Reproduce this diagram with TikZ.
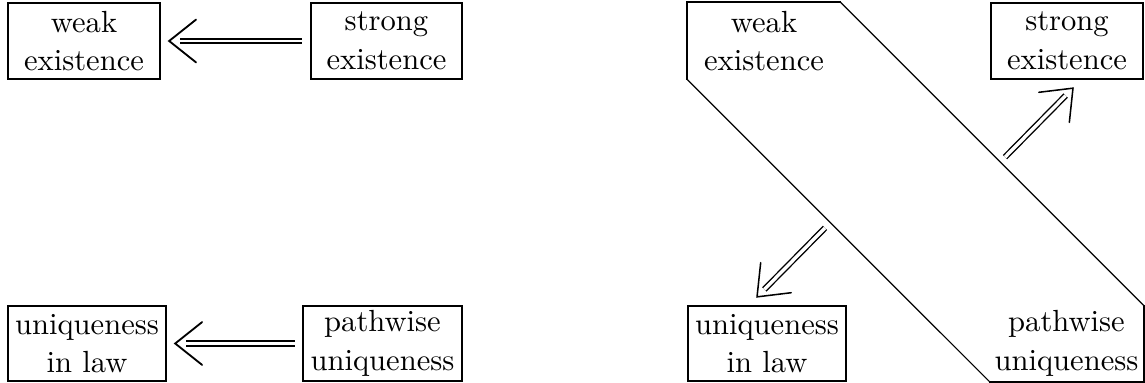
\documentclass[tikz,border=0pt]{standalone}
\usetikzlibrary{calc,decorations.markings}
\begin{document}
\begin{tikzpicture}[x=0.327pt,y=-0.327pt,
  txt/.style={align=center, inner sep=0pt, font=\fontsize{10pt}{12.6pt}\selectfont},
  box/.style={txt, draw, line width=0.75pt},
  frame/.style={line width=0.7pt, line join=miter},
  diag/.style={line width=0.4pt},
  dblh/.style={double, line width=0.7pt, double distance=0.8pt},
  dbld/.style={double, line width=0.45pt, double distance=1.1pt},
  chev/.style={postaction={decorate, decoration={markings,
      mark=at position 1 with {\draw[line width=#1, line cap=round, line join=miter]
        (-8.8pt,7pt) -- (0pt,0pt) -- (-8.8pt,-7pt);}}}},
  chev/.default=0.5pt]
\useasboundingbox (0,0) rectangle (1145,383);

% ---- left panel ----
\node[box, minimum width=49.7pt, minimum height=24.85pt] (wL) at (84,41) {weak\\existence};
\node[box, minimum width=49.4pt, minimum height=24.85pt] (sL) at (386.5,41) {strong\\existence};
\node[box, minimum width=51.7pt, minimum height=24.5pt] (uL) at (87,343.5) {uniqueness\\in law};
\node[box, minimum width=52.0pt, minimum height=24.5pt] (pL) at (382.5,343.5) {pathwise\\uniqueness};

\coordinate (t1) at ($(wL.east)+(8,0)$);
\coordinate (s1) at ($(sL.west)+(-8,0)$);
\draw[dblh] (s1) -- ($(t1)!3.4pt!(s1)$);
\path[chev=0.6pt] (s1) -- (t1);

\coordinate (t2) at ($(uL.east)+(8,0)$);
\coordinate (s2) at ($(pL.west)+(-7,0)$);
\draw[dblh] (s2) -- ($(t2)!3.4pt!(s2)$);
\path[chev=0.6pt] (s2) -- (t2);

% ---- right panel ----
\node[txt, minimum width=49.7pt, minimum height=24.85pt] (wR) at (764,41) {weak\\existence};
\node[box, minimum width=49.7pt, minimum height=24.85pt] (sR) at (1067,41) {strong\\existence};
\node[box, minimum width=51.7pt, minimum height=24.5pt] (uR) at (767,343.5) {uniqueness\\in law};
\node[txt, minimum width=50.0pt, minimum height=24.5pt] (pR) at (1066.5,343.5) {pathwise\\uniqueness};

\draw[frame] (wR.south west) -- (wR.north west) -- (wR.north east);
\draw[frame] (pR.north east) -- (pR.south east) -- (pR.south west);
\draw[diag] (wR.north east) -- (pR.north east);
\draw[diag] (wR.south west) -- (pR.south west);

\coordinate (t3) at ($(sR.south)+(6,8)$);
\coordinate (s3) at ($(t3)+(-68,69)$);
\draw[dbld] (s3) -- ($(t3)!3.4pt!(s3)$);
\path[chev=0.5pt] (s3) -- (t3);

\coordinate (t4) at ($(uR.north)+(-10,-8)$);
\coordinate (s4) at ($(t4)+(68,-69)$);
\draw[dbld] (s4) -- ($(t4)!3.4pt!(s4)$);
\path[chev=0.5pt] (s4) -- (t4);
\end{tikzpicture}
\end{document}
